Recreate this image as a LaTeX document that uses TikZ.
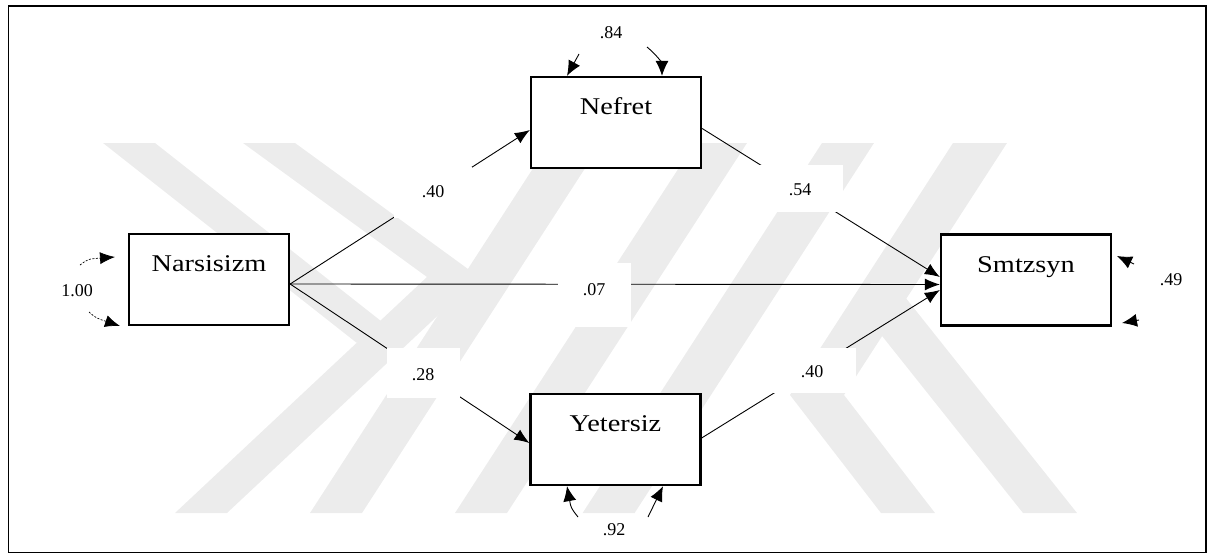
\documentclass[tikz,border=0pt]{standalone}
\usepackage{fontspec}
\setmainfont{Liberation Serif}
\newfontfamily\boxfont[FakeStretch=1.18]{Liberation Serif}
\usetikzlibrary{arrows.meta}
\begin{document}
\begin{tikzpicture}[x=1pt,y=-1pt,
  wm/.style={fill=black!7.5,draw=none},
  varbox/.style={draw,fill=white,line width=2.3pt,inner sep=0pt,
    minimum width=170pt,text height=37.5pt,text depth=53.5pt,
    font=\boxfont\fontsize{24}{24}\selectfont},
  lbl/.style={fill=white,inner sep=0pt,anchor=base,font=\fontsize{18}{18}\selectfont},
  conn/.style={line width=0.9pt,-{Latex[length=15pt,width=12pt]}},
  resid/.style={line width=0.9pt,-{Latex[length=15pt,width=13pt]}},
  dashres/.style={line width=0.7pt,dash pattern=on 2pt off 1.5pt,-{Latex[length=15pt,width=12pt]}}
]
\useasboundingbox (0,0) rectangle (1213,554);
% watermark
\fill[wm] (103,143) -- (155,143) -- (408.5,342.7) -- (356.5,342.7) -- cycle;
\fill[wm] (243,143) -- (295,143) -- (479,277) -- (227,513) -- (175,513) -- (427,277) -- cycle;
\fill[wm] (549.4,143) -- (601.4,143) -- (362,513) -- (310,513) -- cycle;
\fill[wm] (695,143) -- (747,143) -- (507,513) -- (455,513) -- cycle;
\fill[wm] (822,143) -- (874,143) -- (634.6,513) -- (582.6,513) -- cycle;
\fill[wm] (953,143) -- (1007,143) -- (844,395) -- (935,513) -- (881,513) -- (790,395) -- cycle;
\fill[wm] (852.3,298.6) -- (906.3,298.6) -- (1077,513) -- (1023,513) -- cycle;
% frame
\draw[line width=1.8pt] (8.5,6) rectangle (1206,552.5);
% variables
\node[varbox,minimum width=160pt] (nar) at (209,279.5) {Narsisizm};
\node[varbox] (nef) at (616,122.5) {Nefret};
\node[varbox] (yet) at (615.5,439.5) {Yetersiz};
\node[varbox] (smt) at (1026,280) {Smtzsyn};
% paths
\draw[conn] ([yshift=-4.5pt]nar.east) -- ([yshift=-7.5pt]nef.west);
\draw[conn] ([yshift=-4.5pt]nar.east) -- ([yshift=-3.5pt]yet.west);
\draw[conn] ([yshift=-4.5pt]nar.east) -- ([yshift=-4.5pt]smt.west);
\draw[conn] ([yshift=-6pt]nef.east) -- ([yshift=3pt]smt.west);
\draw[conn] ([yshift=1.5pt]yet.east) -- ([yshift=-10pt]smt.west);
% path labels
\node[lbl,minimum width=78pt,text height=30pt,text depth=21pt] (p1) at (433,197) {.40};
\node[lbl,minimum width=73pt,text height=32pt,text depth=18pt] (p2) at (423,380) {.28};
\node[lbl,minimum width=73pt,text height=32pt,text depth=32pt] (p3) at (594,295) {.07};
\node[lbl,minimum width=85pt,text height=30pt,text depth=17pt] (p4) at (800,195) {.54};
\node[lbl,minimum width=87pt,text height=29pt,text depth=16pt] (p5) at (812,377) {.40};
% residual labels
\node[lbl] (r1) at (611,38) {.84};
\node[lbl] (r2) at (614,535) {.92};
\node[lbl] (r3) at (1171,285) {.49};
\node[lbl] (r4) at (77,296) {1.00};
% residual arrows
\coordinate (nefL) at (579,54);
\coordinate (nefR) at (647,47);
\draw[resid] (nefL) -- ([xshift=-49pt]nef.north);
\draw[resid] (nefR) .. controls (658,56) and (662,64) .. ([xshift=46pt]nef.north);
\coordinate (yetL) at (578,517);
\coordinate (yetR) at (648,517);
\draw[resid] (yetL) .. controls (571,508) .. ([xshift=-48.5pt]yet.south);
\draw[resid] (yetR) -- ([xshift=47.5pt]yet.south);
\coordinate (smtU0) at (1134,264);
\coordinate (smtU1) at (1117,256);
\draw[resid] (smtU0) -- (smtU1);
\coordinate (smtL0) at (1139,320);
\coordinate (smtL1) at (1122,323);
\draw[resid] (smtL0) -- (smtL1);
\coordinate (narU0) at (80,265);
\coordinate (narU1) at (115,257);
\draw[dashres] (narU0) .. controls (88,259) .. (narU1);
\coordinate (narL0) at (89,312);
\coordinate (narL1) at (120,326);
\draw[dashres] (narL0) .. controls (96,318) .. (narL1);
\end{tikzpicture}
\end{document}
